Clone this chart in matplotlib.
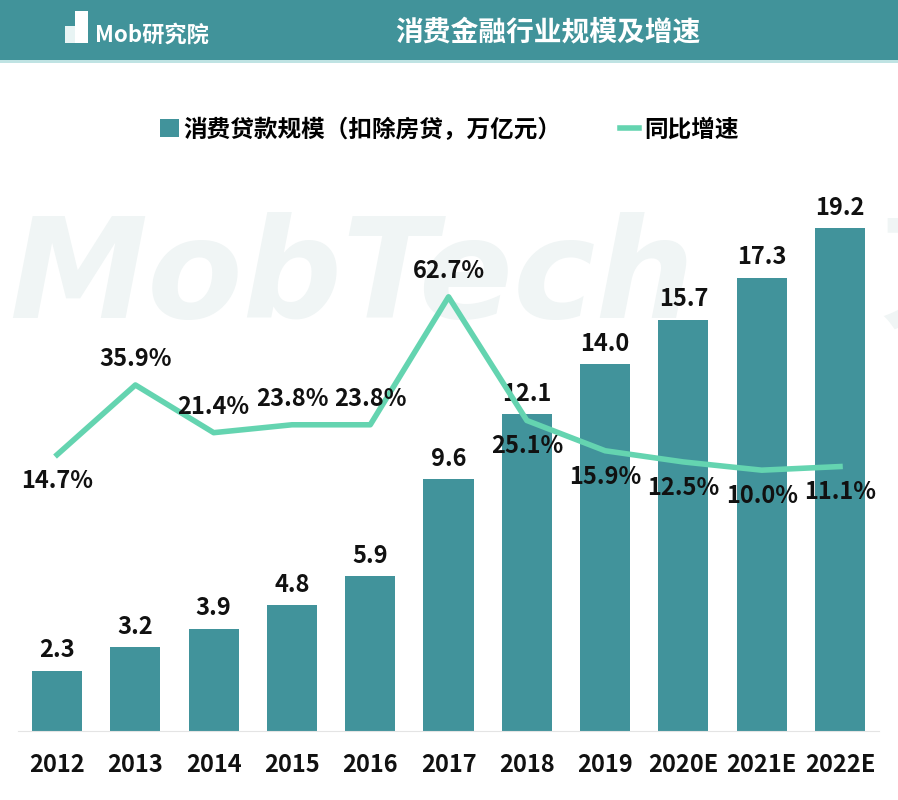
import matplotlib.pyplot as plt
from matplotlib.patches import Rectangle
from matplotlib.lines import Line2D

plt.rcParams["font.family"] = ["Noto Sans CJK SC", "DejaVu Sans"]

years = ["2012", "2013", "2014", "2015", "2016", "2017", "2018", "2019", "2020E", "2021E", "2022E"]
loan_scale = [2.3, 3.2, 3.9, 4.8, 5.9, 9.6, 12.1, 14.0, 15.7, 17.3, 19.2]
growth = [14.7, 35.9, 21.4, 23.8, 23.8, 62.7, 25.1, 15.9, 12.5, 10.0, 11.1]
growth_above = [False, True, True, True, True, True, False, False, False, False, False]

bar_color = "#41939b"
line_color = "#64d4b0"
header_color = "#41939a"

fig = plt.figure(figsize=(8.98, 8.0), dpi=100)

# header band
fig.patches.append(Rectangle((0, 0.925), 1, 0.075, transform=fig.transFigure,
                             facecolor=header_color, edgecolor="none", zorder=0))
fig.patches.append(Rectangle((0, 0.921), 1, 0.004, transform=fig.transFigure,
                             facecolor="#bfe3e3", edgecolor="none", zorder=0))
fig.text(0.61, 0.959, "消费金融行业规模及增速", color="white", fontsize=20,
         fontweight="bold", ha="center", va="center")
# logo
fig.patches.append(Rectangle((0.072, 0.946), 0.012, 0.022, transform=fig.transFigure,
                             facecolor="#e8f4f4", edgecolor="none"))
fig.patches.append(Rectangle((0.084, 0.946), 0.014, 0.04, transform=fig.transFigure,
                             facecolor="#ffffff", edgecolor="none"))
fig.text(0.106, 0.956, "Mob研究院", color="white", fontsize=16, style="italic",
         fontweight="bold", ha="left", va="center")

ax = fig.add_axes([0.02, 0.08625, 0.959, 0.71375])
# faint watermark behind the data
ax.text(-0.01, 0.79, "MobTech", transform=ax.transAxes, color="#f0f5f5",
        fontsize=100, style="oblique", fontweight="bold", family="DejaVu Sans",
        ha="left", va="center", zorder=0)
ax.text(1.0, 0.79, "東", transform=ax.transAxes, color="#f0f5f5",
        fontsize=95, fontweight="bold", ha="left", va="center", zorder=0)
x = list(range(len(years)))
ax.bar(x, loan_scale, width=0.64, color=bar_color, zorder=2)
for xi, v in zip(x, loan_scale):
    ax.annotate(f"{v:.1f}", (xi, v), xytext=(0, 6), textcoords="offset points",
                ha="center", va="bottom", fontsize=17, fontweight="bold", color="#111111")
ax.set_xlim(-0.5, len(years) - 0.5)
ax.set_ylim(0, 21.79)
ax.set_yticks([])
ax.set_xticks(x)
ax.set_xticklabels(years, fontsize=17, fontweight="bold", color="#111111")
ax.tick_params(axis="x", length=0, pad=16)
for side in ["top", "right", "left"]:
    ax.spines[side].set_visible(False)
ax.spines["bottom"].set_color("#e4e4e4")

ax2 = ax.twinx()
ax2.plot(x, growth, color=line_color, linewidth=4, zorder=3, solid_joinstyle="round")
for xi, v, up in zip(x, growth, growth_above):
    ax2.annotate(f"{v:.1f}%", (xi, v), xytext=(0, 10 if up else -10),
                 textcoords="offset points", ha="center",
                 va="bottom" if up else "top", fontsize=17, fontweight="bold",
                 color="#111111", zorder=4)
ax2.set_ylim(-69.3, 104.3)
ax2.set_yticks([])
for side in ["top", "right", "left", "bottom"]:
    ax2.spines[side].set_visible(False)

handles = [Rectangle((0, 0), 1, 1, facecolor=bar_color),
           Line2D([0], [0], color=line_color, linewidth=4)]
leg = fig.legend(handles, ["消费贷款规模（扣除房贷，万亿元）", "同比增速"],
                 loc="center", bbox_to_anchor=(0.5, 0.838), ncol=2, frameon=False,
                 handlelength=0.8, handleheight=0.8, handletextpad=0.2,
                 columnspacing=2.5, prop={"size": 17, "weight": "bold"})

fig.savefig("out.png", dpi=100)
